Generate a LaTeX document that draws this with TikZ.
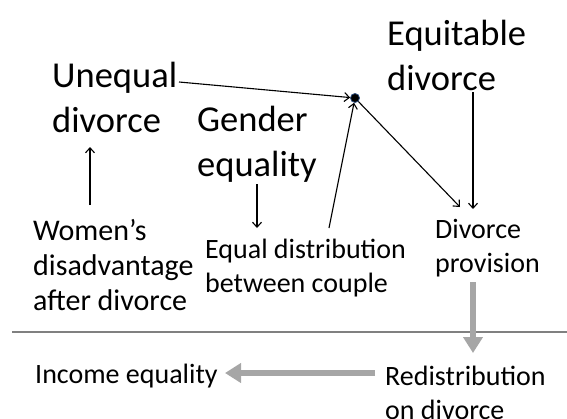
\documentclass[tikz,border=0pt]{standalone}
\usepackage{fontspec}
\setmainfont{Carlito}
\usetikzlibrary{arrows.meta,calc}
\definecolor{arrowgray}{HTML}{A6A6A6}
\definecolor{rulegray}{HTML}{808080}
\definecolor{dotblue}{HTML}{2F4F7F}
\begin{document}
\begin{tikzpicture}[x=1pt,y=-1pt,
  bigtxt/.style={inner sep=0pt, anchor=base west, align=left, font=\fontsize{36.5}{45}\selectfont},
  smalltxt/.style={inner sep=0pt, anchor=base west, align=left, font=\fontsize{28}{34}\selectfont},
  womentxt/.style={inner sep=0pt, anchor=base west, align=left, font=\fontsize{30}{35}\selectfont},
  thinarrow/.style={draw=black, line width=1.1pt, -{Straight Barb[length=5pt,width=9pt]}},
  grayarrow/.style={draw=arrowgray, line width=6.5pt, -{Triangle[length=16pt,width=19pt]}},
  rulestyle/.style={draw=rulegray, line width=1.5pt},
  hubdot/.style={circle, fill=black, draw=dotblue, line width=0.8pt, inner sep=0pt, minimum size=9pt}
]
\useasboundingbox (0,0) rectangle (567,418);

% anchors are at the baseline of the last line
\node[bigtxt] (unequal) at (52,132) {Unequal\\divorce};
\node[bigtxt] (gender) at (197,176) {Gender\\equality};
\node[bigtxt] (equitable) at (387,90) {Equitable\\divorce};
\node[womentxt] (women) at (33,310) {Women’s\\disadvantage\\after divorce};
\node[smalltxt] (equal) at (205,292) {Equal distribution\\between couple};
\node[smalltxt] (provision) at (435,272) {Divorce\\provision};
\node[smalltxt] (redis) at (385,419) {Redistribution\\on divorce};
\node[smalltxt] (income) at (35,383) {Income equality};
\node[hubdot] (dot) at (355,98) {};

\coordinate (ruleL) at (12,332);
\coordinate (ruleR) at (567,332);
\draw[rulestyle] (ruleL) -- (ruleR);

\draw[thinarrow] ($(unequal.base west)+(127,-50)$) -- (dot);
\draw[thinarrow] ($(women.base west)+(57,-105)$) -- ($(unequal.base west)+(38,15)$);
\draw[thinarrow] ($(gender.base west)+(60,8)$) -- ($(equal.base west)+(52,-64)$);
\draw[thinarrow] ($(equal.base west)+(124,-64)$) -- (dot);
\draw[thinarrow] (dot) -- ($(provision.base west)+(25,-65)$);
\draw[thinarrow] ($(equitable.base west)+(86,2)$) -- ($(provision.base west)+(38,-63)$);

\draw[grayarrow] ($(provision.base west)+(38,10)$) -- ($(redis.base west)+(88,-66)$);
\draw[grayarrow] ($(redis.base west)+(-10,-46)$) -- ($(income.base west)+(190,-10)$);
\end{tikzpicture}
\end{document}
